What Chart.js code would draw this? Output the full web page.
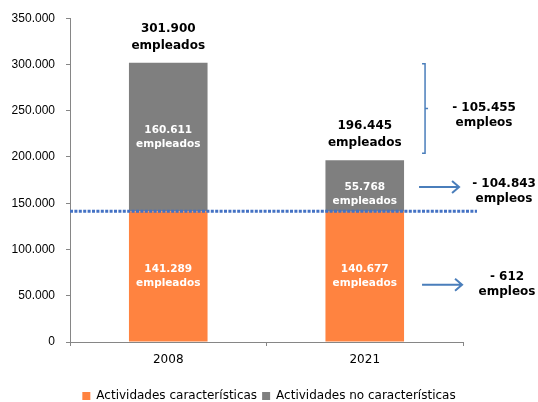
<!DOCTYPE html>
<html>
<head>
<meta charset="utf-8">
<script src="https://cdn.jsdelivr.net/npm/chart.js@4/dist/chart.umd.min.js"></script>
<style>
html,body{margin:0;padding:0;background:#fff;}
#wrap{width:538px;height:402px;position:relative;}
</style>
</head>
<body>
<div id="wrap"><canvas id="c" width="538" height="402"></canvas></div>
<script>
const categories = ['2008', '2021'];
const caracteristicas = [141289, 140677];
const noCaracteristicas = [160611, 55768];
const totales = [301900, 196445];
const variacionTotal = -105455;
const variacionNoCaract = -104843;
const variacionCaract = -612;
const seriesNames = ['Actividades características', 'Actividades no características'];

function fmt(n) {
  return String(Math.abs(n)).replace(/\B(?=(\d{3})+(?!\d))/g, '.');
}
function fmtVar(n) { return (n < 0 ? '- ' : '+ ') + fmt(n); }

const ORANGE = '#FF8340';
const GRAY = '#7F7F7F';
const BLUE = '#4A7EBB';
const AXIS = '#868686';

const annotations = {
  id: 'annotations',
  afterDatasetsDraw(chart) {
    const ctx = chart.ctx;
    const ys = chart.scales.y;
    const area = chart.chartArea;
    const m0 = chart.getDatasetMeta(0);
    const m1 = chart.getDatasetMeta(1);
    ctx.save();

    // dotted reference line at 2008 characteristic level
    const yl = ys.getPixelForValue(caracteristicas[0]);
    ctx.strokeStyle = '#4472C4';
    ctx.lineWidth = 3;
    ctx.setLineDash([3, 1.4]);
    ctx.beginPath();
    ctx.moveTo(area.left, yl);
    ctx.lineTo(area.right + 14, yl);
    ctx.stroke();
    ctx.setLineDash([]);

    ctx.textAlign = 'center';
    ctx.textBaseline = 'middle';

    // inside labels
    const insideOffsets = [[0, 0], [0, 8]];
    ctx.fillStyle = '#FFFFFF';
    ctx.font = 'bold 10.5px "DejaVu Sans"';
    for (let i = 0; i < categories.length; i++) {
      const b0 = m0.data[i], b1 = m1.data[i];
      const mid0 = (b0.y + b0.base) / 2 + insideOffsets[i][0];
      ctx.fillText(fmt(caracteristicas[i]), b0.x, mid0 - 7);
      ctx.fillText('empleados', b0.x, mid0 + 7);
      const mid1 = (b1.y + b1.base) / 2 + insideOffsets[i][1];
      ctx.fillText(fmt(noCaracteristicas[i]), b1.x, mid1 - 7);
      ctx.fillText('empleados', b1.x, mid1 + 7);
    }

    // totals above bars
    ctx.fillStyle = '#000000';
    ctx.font = 'bold 12px "DejaVu Sans"';
    for (let i = 0; i < categories.length; i++) {
      const top = ys.getPixelForValue(totales[i]);
      const bx = m1.data[i].x;
      ctx.fillText(fmt(totales[i]), bx, top - 34);
      ctx.fillText('empleados', bx, top - 17);
    }

    // right-side annotations
    const b = m1.data[1];
    const barRight = b.x + b.width / 2;
    const yTop = ys.getPixelForValue(totales[0]) + 1;
    const yBot = ys.getPixelForValue(totales[1]) - 7;
    const yMid = (yTop + yBot) / 2;
    const bx = barRight + 21;
    ctx.strokeStyle = BLUE;
    ctx.lineWidth = 1.5;
    ctx.beginPath();
    ctx.moveTo(bx - 3, yTop); ctx.lineTo(bx, yTop); ctx.lineTo(bx, yBot); ctx.lineTo(bx - 3, yBot);
    ctx.moveTo(bx, yMid); ctx.lineTo(bx + 3, yMid);
    ctx.stroke();
    ctx.fillText(fmtVar(variacionTotal), barRight + 80, yMid - 1);
    ctx.fillText('empleos', barRight + 80, yMid + 14);

    function arrow(x1, x2, y) {
      ctx.strokeStyle = BLUE;
      ctx.lineWidth = 2;
      ctx.beginPath();
      ctx.moveTo(x1, y); ctx.lineTo(x2, y);
      ctx.moveTo(x2 - 7, y - 6); ctx.lineTo(x2, y); ctx.lineTo(x2 - 7, y + 6);
      ctx.stroke();
    }
    const g = m1.data[1];
    const yA1 = (g.y + g.base) / 2 + 1;
    arrow(barRight + 15, barRight + 55, yA1);
    ctx.fillText(fmtVar(variacionNoCaract), barRight + 100, yA1 - 3);
    ctx.fillText('empleos', barRight + 100, yA1 + 12);

    const o = m0.data[1];
    const yA2 = (o.y + o.base) / 2 + 8;
    arrow(barRight + 18, barRight + 58, yA2);
    ctx.fillText(fmtVar(variacionCaract), barRight + 103, yA2 - 8);
    ctx.fillText('empleos', barRight + 103, yA2 + 7);

    ctx.restore();
  }
};

new Chart(document.getElementById('c'), {
  type: 'bar',
  data: {
    labels: categories,
    datasets: [
      { label: seriesNames[0], data: caracteristicas, backgroundColor: ORANGE, borderWidth: 0,
        barPercentage: 0.5, categoryPercentage: 0.8 },
      { label: seriesNames[1], data: noCaracteristicas, backgroundColor: GRAY, borderWidth: 0,
        barPercentage: 0.5, categoryPercentage: 0.8 }
    ]
  },
  options: {
    responsive: false,
    animation: false,
    devicePixelRatio: 1,
    layout: { padding: { left: 0, right: 0, top: 17, bottom: -10 } },
    plugins: {
      tooltip: { enabled: false },
      legend: {
        position: 'bottom',
        labels: {
          boxWidth: 8, boxHeight: 8, padding: 5,
          color: '#000',
          font: { family: '"DejaVu Sans"', size: 12 }
        }
      }
    },
    scales: {
      x: {
        stacked: true,
        grid: { drawOnChartArea: false, color: AXIS, tickLength: 4, offset: true },
        border: { color: AXIS, width: 1 },
        ticks: { color: '#000', font: { family: '"DejaVu Sans"', size: 12 }, padding: 7 },
        afterFit(s) { s.height = 43; }
      },
      y: {
        stacked: true,
        min: 0, max: 350000,
        grid: { drawOnChartArea: false, color: AXIS, tickLength: 4 },
        border: { color: AXIS, width: 1 },
        ticks: {
          stepSize: 50000, color: '#000', padding: 11,
          font: { family: '"Liberation Sans"', size: 12 },
          callback: v => fmt(v)
        },
        afterFit(s) { s.width = 70; }
      },
      spacer: {
        type: 'linear',
        position: 'right',
        display: true,
        grid: { display: false },
        border: { display: false },
        ticks: { display: false },
        afterFit(s) { s.width = 75; }
      }
    }
  },
  plugins: [annotations]
});
</script>
</body>
</html>
